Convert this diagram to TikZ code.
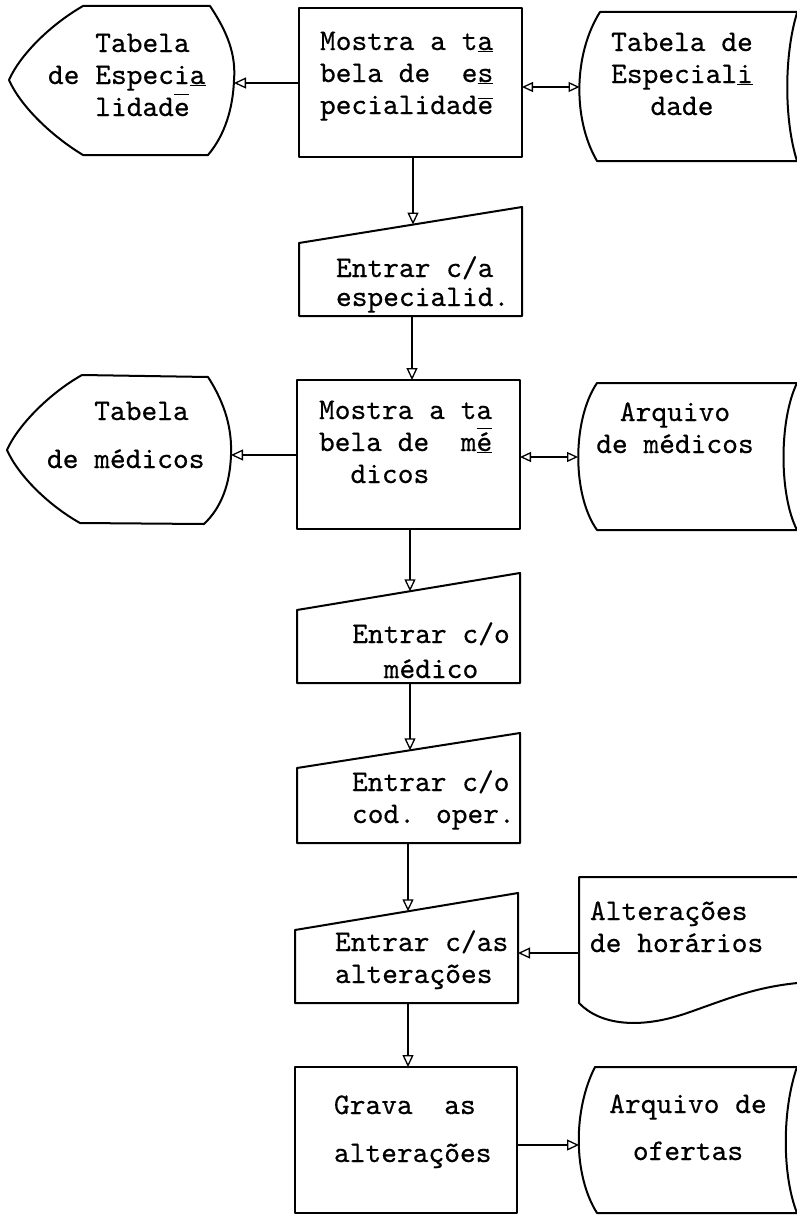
\documentclass[tikz,border=0pt]{standalone}
\usepackage{fontspec}
\usetikzlibrary{arrows.meta}
% typewriter face, slightly heavier than the stock mono
\newfontfamily\typewriter[FakeBold=0.4]{lmmono10-regular.otf}
% typewriter hyphenation marks
\newcommand\hyph[1]{\underline{#1}}
\newcommand\topbar[2][0.62em]{\leavevmode\rlap{\raisebox{#1}{\rule{0.5em}{1.3pt}}}#2}
\begin{document}
\begin{tikzpicture}[x=1pt,y=-1pt,
  outline/.style={line width=2pt, line join=round},
  procbox/.style={draw, outline, rectangle, inner sep=0pt, outer sep=0pt},
  link/.style={line width=1.6pt, -{Triangle[open, length=12pt, width=11pt, line width=1.3pt]}},
  dlink/.style={line width=1.6pt, {Triangle[open, length=11pt, width=10pt, line width=1.3pt]}-{Triangle[open, length=11pt, width=10pt, line width=1.3pt]}},
  txt/.style={inner sep=0pt, outer sep=0pt, font=\fontsize{30}{32}\selectfont\typewriter, align=left, anchor=base west},
  ctxt/.style={txt, align=center, anchor=base}]

\clip (0,0) rectangle (797,1215);
\fill[white] (0,0) rectangle (797,1215);

% ---------- process boxes ----------
\node[procbox, minimum width=223pt, minimum height=149pt] (box1) at (410.5,82.5) {};
\node[procbox, minimum width=223pt, minimum height=149pt] (box2) at (408.5,454.5) {};
\node[procbox, minimum width=222pt, minimum height=146pt] (box3) at (406,1140) {};

% ---------- displays ----------
\draw[outline] (9,80) .. controls (20,55) and (50,25) .. (83,6) -- (210,6)
  .. controls (228,33) and (236,55) .. (234,80)
  .. controls (233,108) and (225,135) .. (208,155) -- (83,155)
  .. controls (50,135) and (20,105) .. cycle;
\coordinate (disp1) at (234,83);

\draw[outline] (7,450) .. controls (18,425) and (50,393) .. (82,375) -- (208,377)
  .. controls (226,405) and (232,430) .. (231,455)
  .. controls (230,483) and (222,507) .. (204,524) -- (80,523)
  .. controls (48,505) and (18,475) .. cycle;
\coordinate (disp2) at (231,455);

% ---------- stored data ----------
\draw[outline] (810,12) -- (600,12) .. controls (573,55) and (573,120) .. (597,161) -- (810,161);
\draw[outline] (797,13) .. controls (784,55) and (784,120) .. (797,161);
\coordinate (stor1) at (579.5,87);

\draw[outline] (810,383) -- (597,383) .. controls (572,420) and (572,495) .. (597,530) -- (810,530);
\draw[outline] (797,383) .. controls (779,420) and (779,495) .. (797,530);
\coordinate (stor2) at (578,457);

\draw[outline] (810,1067) -- (595,1067) .. controls (573,1110) and (573,1175) .. (597,1213) -- (810,1213);
\draw[outline] (797,1067) .. controls (782,1110) and (782,1175) .. (797,1213);
\coordinate (stor3) at (579,1145);

% ---------- document ----------
\draw[outline] (810,877) -- (579,877) -- (579,1003)
  .. controls (600,1025) and (640,1030) .. (690,1012)
  .. controls (730,998) and (760,985) .. (810,982);
\coordinate (doc) at (579,953);

% ---------- manual inputs ----------
\draw[outline] (299,243) -- (522,207) -- (522,316) -- (299,316) -- cycle;
\coordinate (man1n) at (413,224.6);
\coordinate (man1s) at (412,316);
\draw[outline] (297,610) -- (520,573) -- (520,683) -- (297,683) -- cycle;
\coordinate (man2n) at (410,591.3);
\coordinate (man2s) at (410,683);
\draw[outline] (297,768) -- (520,733) -- (520,843) -- (297,843) -- cycle;
\coordinate (man3n) at (410,750.3);
\coordinate (man3s) at (408,843);
\draw[outline] (295,930) -- (518,893) -- (518,1003) -- (295,1003) -- cycle;
\coordinate (man4n) at (408,911.3);
\coordinate (man4e) at (518,953);
\coordinate (man4s) at (408,1003);

% ---------- texts (placed by the baseline of their last line) ----------
\node[txt] (tdisp1) at (48,116) {\ \ \ Tabela\\de Especi\hyph{a}\\\ \ \ lidad\topbar[0.7em]{e}};
\node[txt] (tbox1) at (320,114) {Mostra a t\hyph{a}\\bela de\ \ e\hyph{s}\\pecialidad\topbar[0.5em]{e}};
\node[ctxt] (tstor1) at (682,115) {Tabela de\\Especial\hyph{i}\\dade};
\node[txt] (tman1) at (336,306) {Entrar c/a\\[-3pt]especialid.};
\node[txt] (tdisp2) at (47,468) {\ \ \ Tabela\\[16pt]de médicos};
\node[txt] (tbox2) at (319,483) {Mostra a ta\\bela de\ \ m\hyph{\topbar[0.72em]{é}}\\\ \ dicos};
\node[ctxt] (tstor2) at (675,453) {Arquivo\\de médicos};
\node[ctxt] (tman2) at (431,678) {Entrar c/o\\[3pt]médico};
\node[txt] (tman3) at (352,823) {Entrar c/o\\cod. oper.};
\node[txt] (tman4) at (335,983) {Entrar c/as\\alterações};
\node[txt] (tdoc) at (590,952) {Alterações\\de horários};
\node[txt] (tbox3) at (334,1162) {Grava\ \ as\\[16pt]alterações};
\node[ctxt] (tstor3) at (688,1160) {Arquivo de\\[15pt]ofertas};

% ---------- connectors ----------
\draw[link] (box1.west |- disp1) -- (disp1);
\draw[dlink] (box1.east |- stor1) -- (stor1);
\draw[link] (box1.south -| man1n) -- (man1n);
\draw[link] (man1s) -- (box2.north -| man1s);
\draw[link] (box2.west |- disp2) -- (disp2);
\draw[dlink] (box2.east |- stor2) -- (stor2);
\draw[link] (box2.south -| man2n) -- (man2n);
\draw[link] (man2s) -- (man3n);
\draw[link] (man3s) -- (man4n);
\draw[link] (doc) -- (man4e);
\draw[link] (man4s) -- (box3.north -| man4s);
\draw[link] (box3.east |- stor3) -- (stor3);
\end{tikzpicture}
\end{document}
